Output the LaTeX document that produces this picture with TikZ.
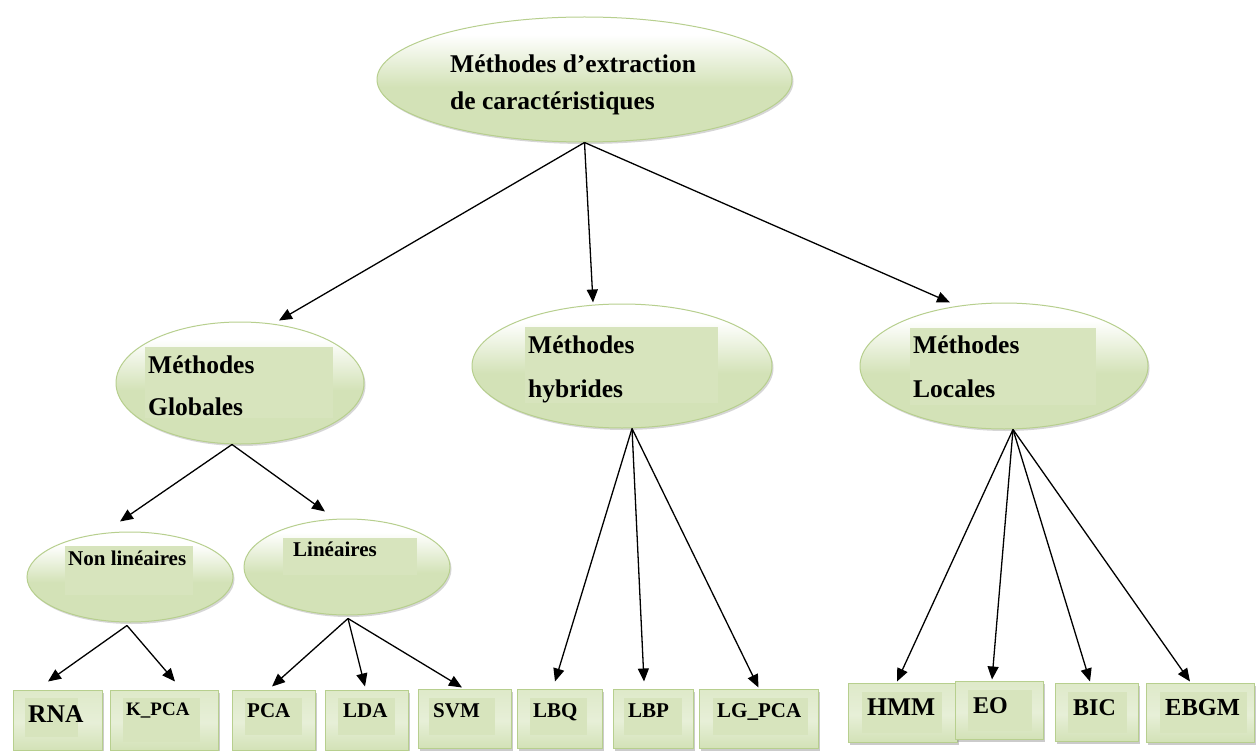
\documentclass[tikz,border=0pt]{standalone}
\usepackage{fontspec}
\setmainfont{Liberation Serif}
\usetikzlibrary{arrows.meta,shadows,shapes.geometric}

\definecolor{ellG}{HTML}{D3E2B7}
\definecolor{innerG}{HTML}{D7E4BD}
\definecolor{edgeG}{HTML}{B7CF8E}

% vertical shadings: 25bp = bottom of the shape, 75bp = top
\pgfdeclareverticalshading{ovalshade}{100bp}{color(0bp)=(ellG); color(25bp)=(ellG); color(47bp)=(ellG); color(68bp)=(white); color(100bp)=(white)}
\pgfdeclareverticalshading{boxshade}{100bp}{color(0bp)=(ellG); color(25bp)=(ellG); color(48bp)=(ellG!55); color(75bp)=(ellG!75); color(100bp)=(ellG!75)}

\tikzset{
  oval/.style={ellipse, draw=edgeG, line width=1pt, shade, shading=ovalshade, inner sep=0pt,
    drop shadow={shadow xshift=1.5pt, shadow yshift=-2pt, fill=black!35, opacity=.45}},
  leaf/.style={rectangle, draw=edgeG, line width=1pt, shade, shading=boxshade, inner sep=0pt,
    drop shadow={shadow xshift=2pt, shadow yshift=-2.5pt, fill=black!40, opacity=.5}},
  lbl/.style={anchor=base west, inner sep=0pt, text=black},
  big/.style={font=\fontsize{25.5}{25.5}\selectfont\bfseries},
  mid/.style={font=\fontsize{21}{21}\selectfont\bfseries},
  arr/.style={draw=black, line width=1.3pt, -{Triangle[length=13pt,width=11pt]}}
}

\begin{document}
\begin{tikzpicture}[x=1pt, y=-1pt]
\useasboundingbox (0,0) rectangle (1257,751);
\fill[white] (0,0) rectangle (1257,751);

% ---- root ----
\node[oval, minimum width=415pt, minimum height=125pt] (root) at (584.5,79.5) {};
\node[lbl, big] (rootA) at (450,73) {Méthodes d’extraction};
\node[lbl, big] (rootB) at (450,110) {de caractéristiques};

% ---- second level ----
\node[oval, minimum width=248pt, minimum height=122pt] (glob) at (240,383) {};
\fill[innerG] (145,347) rectangle (333,418);
\node[lbl, big] (globA) at (148,373) {Méthodes};
\node[lbl, big] (globB) at (148,415) {Globales};

\node[oval, minimum width=300pt, minimum height=124pt] (hyb) at (622,366) {};
\fill[innerG] (525,327) rectangle (718,403);
\node[lbl, big] (hybA) at (528,353) {Méthodes};
\node[lbl, big] (hybB) at (528,397) {hybrides};

\node[oval, minimum width=288pt, minimum height=126pt] (loc) at (1004,366) {};
\fill[innerG] (910,328) rectangle (1096,405);
\node[lbl, big] (locA) at (913,353) {Méthodes};
\node[lbl, big] (locB) at (913,397) {Locales};

% ---- third level ----
\node[oval, minimum width=206pt, minimum height=90pt] (nl) at (130,577) {};
\fill[innerG] (65,546) rectangle (193,595);
\node[lbl, mid] (nlA) at (68,565) {Non linéaires};

\node[oval, minimum width=206pt, minimum height=96pt] (lin) at (347,567) {};
\fill[innerG] (283,538) rectangle (417,575);
\node[lbl, mid] (linA) at (293,556) {Linéaires};

% ---- leaves ----
\node[leaf, minimum width=89pt, minimum height=60pt] (rna) at (57.5,720) {};
\fill[innerG] (25,698) rectangle (78,737);
\node[lbl, big] (rnaT) at (28,722) {RNA};

\node[leaf, minimum width=108pt, minimum height=60pt] (kpca) at (164,720) {};
\fill[innerG] (123,698) rectangle (200,742);
\node[lbl, font=\fontsize{19}{19}\selectfont\bfseries] (kpcaT) at (126,715) {K\_PCA};

\node[leaf, minimum width=83pt, minimum height=60pt] (pca) at (273.5,720) {};
\fill[innerG] (245,698) rectangle (302,735);
\node[lbl, mid] (pcaT) at (247,717) {PCA};

\node[leaf, minimum width=83pt, minimum height=60pt] (lda) at (366.5,720) {};
\fill[innerG] (338,698) rectangle (395,735);
\node[lbl, mid] (ldaT) at (343,717) {LDA};

\node[leaf, minimum width=93pt, minimum height=59pt] (svm) at (464.5,718.5) {};
\fill[innerG] (429,698) rectangle (495,735);
\node[lbl, mid] (svmT) at (433,717) {SVM};

\node[leaf, minimum width=85pt, minimum height=59pt] (lbq) at (559.5,718.5) {};
\fill[innerG] (530,698) rectangle (587,735);
\node[lbl, mid] (lbqT) at (533,717) {LBQ};

\node[leaf, minimum width=80pt, minimum height=59pt] (lbp) at (653,718.5) {};
\fill[innerG] (624,698) rectangle (682,735);
\node[lbl, mid] (lbpT) at (628,717) {LBP};

\node[leaf, minimum width=119pt, minimum height=59pt] (lgpca) at (758.5,718.5) {};
\fill[innerG] (713,698) rectangle (808,735);
\node[lbl, mid] (lgpcaT) at (717,717) {LG\_PCA};

\node[leaf, minimum width=109pt, minimum height=59pt] (hmm) at (902.5,712.5) {};
\fill[innerG] (862,692) rectangle (942,733);
\node[lbl, big] (hmmT) at (867,715) {HMM};

\node[leaf, minimum width=88pt, minimum height=58pt] (eo) at (999,710) {};
\fill[innerG] (968,690) rectangle (1032,731);
\node[lbl, font=\fontsize{24}{24}\selectfont\bfseries] (eoT) at (973,713) {EO};

\node[leaf, minimum width=83pt, minimum height=58pt] (bic) at (1096.5,712) {};
\fill[innerG] (1068,692) rectangle (1127,733);
\node[lbl, font=\fontsize{24}{24}\selectfont\bfseries] (bicT) at (1073,715) {BIC};

\node[leaf, minimum width=108pt, minimum height=59pt] (ebgm) at (1200,712.5) {};
\fill[innerG] (1160,692) rectangle (1247,733);
\node[lbl, font=\fontsize{24.5}{24.5}\selectfont\bfseries] (ebgmT) at (1165,715) {EBGM};

% ---- connectors ----
\draw[arr] (root.south) -- ([xshift=39pt,yshift=1pt]glob.north);
\draw[arr] (root.south) -- ([xshift=-29pt,yshift=1pt]hyb.north);
\draw[arr] (root.south) -- ([xshift=-54pt]loc.north);

\draw[arr] ([xshift=-8pt]glob.south) -- ([xshift=-10pt,yshift=10pt]nl.north);
\draw[arr] ([xshift=-8pt]glob.south) -- ([xshift=-22pt,yshift=7pt]lin.north);

\draw[arr] ([xshift=-3pt,yshift=-3pt]nl.south) -- ([xshift=-9.5pt,yshift=8pt]rna.north);
\draw[arr] ([xshift=-3pt,yshift=-3pt]nl.south) -- ([xshift=11pt,yshift=8pt]kpca.north);

\draw[arr] ([xshift=1pt,yshift=-3pt]lin.south) -- ([xshift=-1.5pt,yshift=3pt]pca.north);
\draw[arr] ([xshift=1pt,yshift=-3pt]lin.south) -- ([xshift=-1.5pt,yshift=3pt]lda.north);
\draw[arr] ([xshift=1pt,yshift=-3pt]lin.south) -- ([xshift=-2.5pt,yshift=1pt]svm.north);

\draw[arr] ([xshift=10pt]hyb.south) -- ([xshift=-4.5pt,yshift=7pt]lbq.north);
\draw[arr] ([xshift=10pt]hyb.south) -- ([xshift=-9pt,yshift=7pt]lbp.north);
\draw[arr] ([xshift=10pt]hyb.south) -- ([yshift=1pt]lgpca.north);

\draw[arr] ([xshift=9pt]loc.south) -- ([xshift=-5.5pt,yshift=1pt]hmm.north);
\draw[arr] ([xshift=9pt]loc.south) -- ([xshift=-7pt,yshift=1pt]eo.north);
\draw[arr] ([xshift=9pt]loc.south) -- ([xshift=-6.5pt,yshift=1pt]bic.north);
\draw[arr] ([xshift=9pt]loc.south) -- ([xshift=-10pt,yshift=1pt]ebgm.north);
\end{tikzpicture}
\end{document}
